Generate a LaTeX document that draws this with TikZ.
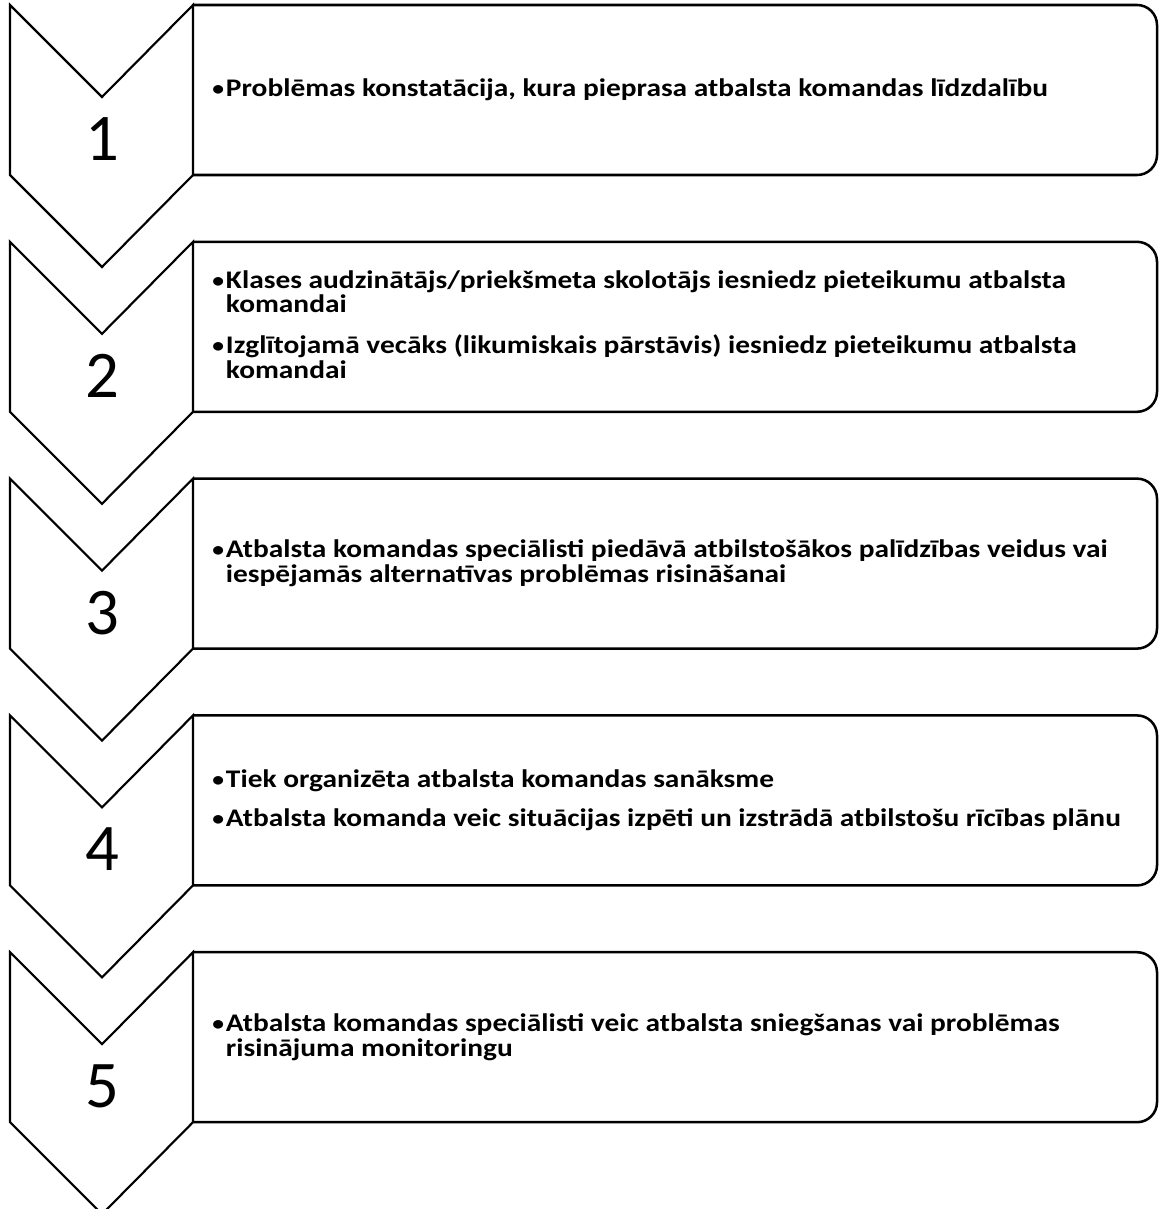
\documentclass[tikz,border=0pt]{standalone}
\usepackage{fontspec}
\setmainfont{Carlito}

\newcommand{\bul}{\raisebox{0.5pt}{\scalebox{0.8}{•}}}

\tikzset{
	chevron/.style={line width=1.6pt,line join=miter},
	stepbox/.style={line width=1.9pt,rounded corners=15pt},
	stepnum/.style={font=\fontsize{50}{60}\selectfont,inner sep=0pt},
	steptext/.style={anchor=west,inner sep=0pt,font=\bfseries\addfontfeatures{FakeStretch=1.16}\fontsize{19}{17.6}\selectfont},
}

\begin{document}
\begin{tikzpicture}[x=0.75pt,y=-0.75pt]
	\useasboundingbox (0,0) rectangle (1158,1209);

	%chevrons, boxes and numbers
	\foreach \n/\t in {1/5,2/241.8,3/478.6,4/715.4,5/952.2}{
		\draw[chevron] (10,\t)--(102,\t+92)--(193,\t)--(193,\t+170)--(102,\t+262)--(10,\t+170)--cycle;
		\draw[stepbox] (193,\t)--(1157,\t)--(1157,\t+170)--(193,\t+170);
		\node[stepnum] (num\n) at (102,\t+134) {\n};
		\coordinate (txt\n) at (212,\t+86);
	}

	%texts
	\node[steptext] (item1) at (txt1) {\begin{tabular}{@{}l@{\hspace{1.5pt}}l@{}}
		\bul&Problēmas konstatācija, kura pieprasa atbalsta komandas līdzdalību
	\end{tabular}};
	\node[steptext] (item2) at (txt2) {\begin{tabular}{@{}l@{\hspace{1.5pt}}l@{}}
		\bul&Klases audzinātājs/priekšmeta skolotājs iesniedz pieteikumu atbalsta\\
		&komandai\\[11pt]
		\bul&Izglītojamā vecāks (likumiskais pārstāvis) iesniedz pieteikumu atbalsta\\
		&komandai
	\end{tabular}};
	\node[steptext] (item3) at (txt3) {\begin{tabular}{@{}l@{\hspace{1.5pt}}l@{}}
		\bul&Atbalsta komandas speciālisti piedāvā atbilstošākos palīdzības veidus vai\\
		&iespējamās alternatīvas problēmas risināšanai
	\end{tabular}};
	\node[steptext] (item4) at (txt4) {\begin{tabular}{@{}l@{\hspace{1.5pt}}l@{}}
		\bul&Tiek organizēta atbalsta komandas sanāksme\\[11pt]
		\bul&Atbalsta komanda veic situācijas izpēti un izstrādā atbilstošu rīcības plānu
	\end{tabular}};
	\node[steptext] (item5) at (txt5) {\begin{tabular}{@{}l@{\hspace{1.5pt}}l@{}}
		\bul&Atbalsta komandas speciālisti veic atbalsta sniegšanas vai problēmas\\
		&risinājuma monitoringu
	\end{tabular}};
\end{tikzpicture}
\end{document}
